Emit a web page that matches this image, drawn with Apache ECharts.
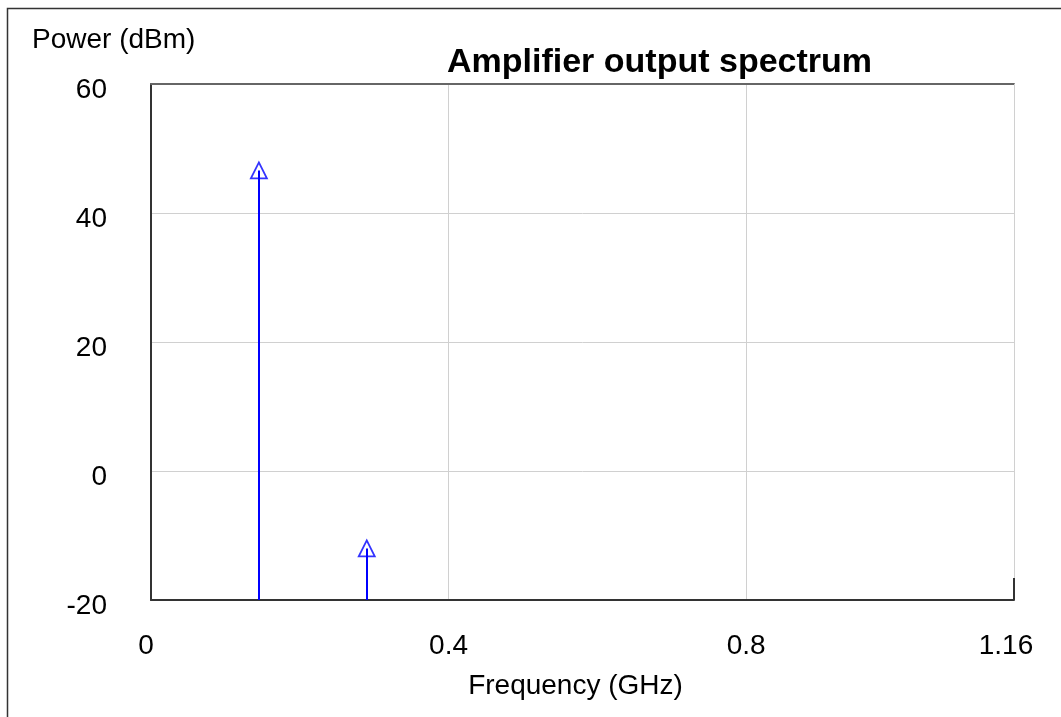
<!DOCTYPE html>
<html>
<head>
<meta charset="utf-8">
<script src="https://cdn.jsdelivr.net/npm/echarts@6/dist/echarts.min.js"></script>
<style>
html,body{margin:0;padding:0;background:#fff;}
#chart{width:1061px;height:717px;}
</style>
</head>
<body>
<div id="chart"></div>
<script>
// Data
const frequencies = [0.145, 0.29];   // GHz
const powers = [46.6, -12.0];        // dBm
const xTickLabels = [0, 0.4, 0.8, 1.16];
const yTickLabels = [-20, 0, 20, 40, 60];
const xMin = 0, xMax = 1.16, yMin = -20, yMax = 60;

const FONT = 'Liberation Sans, Arial, sans-serif';
const chart = echarts.init(document.getElementById('chart'), null, {renderer: 'canvas'});

const points = frequencies.map((f, i) => [f, powers[i]]);
const stems = frequencies.map((f, i) => [
  {coord: [f, yMin]},
  {coord: [f, powers[i]]}
]);

const option = {
  backgroundColor: '#fff',
  animation: false,
  title: {
    text: 'Amplifier output spectrum',
    left: 442,
    top: 41,
    textStyle: {fontFamily: FONT, fontSize: 34, fontWeight: 'bold', color: '#000'}
  },
  graphic: [{
    type: 'rect',
    shape: {x: 7.5, y: 8.5, width: 1200, height: 900},
    style: {fill: 'none', stroke: '#333', lineWidth: 1.5},
    silent: true, z: 100
  }],
  grid: {left: 151, right: 47, top: 84, bottom: 117},
  xAxis: [{
    type: 'value',
    min: xMin, max: xMax, interval: 0.4,
    name: 'Frequency (GHz)',
    nameLocation: 'middle',
    nameGap: 72,
    nameTextStyle: {fontFamily: FONT, fontSize: 28, color: '#000', padding: [0, 14, 0, 0]},
    axisLine: {show: true, onZero: false, lineStyle: {color: '#333', width: 2}},
    axisTick: {show: false},
    axisLabel: {
      customValues: xTickLabels,
      margin: 32,
      formatter: v => v === xMin ? '{s|' + v + '}' : (v === xMax ? '{e|' + v + '}' : '{a|' + v + '}'),
      rich: {
        a: {fontFamily: FONT, fontSize: 28, color: '#000'},
        s: {fontFamily: FONT, fontSize: 28, color: '#000', padding: [0, 10, 0, 0]},
        e: {fontFamily: FONT, fontSize: 28, color: '#000', padding: [0, 16, 0, 0]}
      }
    },
    splitLine: {show: true, lineStyle: {color: '#d0d0d0', width: 1}}
  }, {
    type: 'value', position: 'top',
    min: xMin, max: xMax,
    axisLine: {show: true, onZero: false, lineStyle: {color: '#666', width: 2}},
    axisTick: {show: false}, axisLabel: {show: false}, splitLine: {show: false}
  }],
  yAxis: {
    type: 'value',
    min: yMin, max: yMax, interval: 20,
    name: 'Power (dBm)',
    nameLocation: 'end',
    nameGap: 30,
    nameTextStyle: {fontFamily: FONT, fontSize: 28, color: '#000', align: 'left', padding: [0, 0, 0, -119]},
    axisLine: {show: true, onZero: false, lineStyle: {color: '#333', width: 2}},
    axisTick: {show: false},
    axisLabel: {
      customValues: yTickLabels,
      margin: 44,
      verticalAlign: 'middle',
      formatter: v => '{a|' + v + '}',
      rich: {a: {fontFamily: FONT, fontSize: 28, color: '#000', padding: [12, 0, 0, 0]}}
    },
    splitLine: {show: true, lineStyle: {color: '#d0d0d0', width: 1}}
  },
  series: [{
    type: 'scatter',
    data: points,
    symbol: 'triangle',
    symbolSize: [16, 16],
    itemStyle: {color: 'rgba(255,255,255,0)', borderColor: '#0000ff', borderWidth: 1.8},
    z: 5,
    markLine: {
      silent: true,
      symbol: ['none', 'none'],
      label: {show: false},
      lineStyle: {color: '#0000ff', width: 2, type: 'solid'},
      data: stems.concat([
        [{coord: [xMax, yMin], lineStyle: {color: '#d0d0d0', width: 1}}, {coord: [xMax, yMax]}],
        [{coord: [xMax, yMin], lineStyle: {color: '#333', width: 2}}, {coord: [xMax, -16.6]}]
      ])
    }
  }]
};
chart.setOption(option);
</script>
</body>
</html>
